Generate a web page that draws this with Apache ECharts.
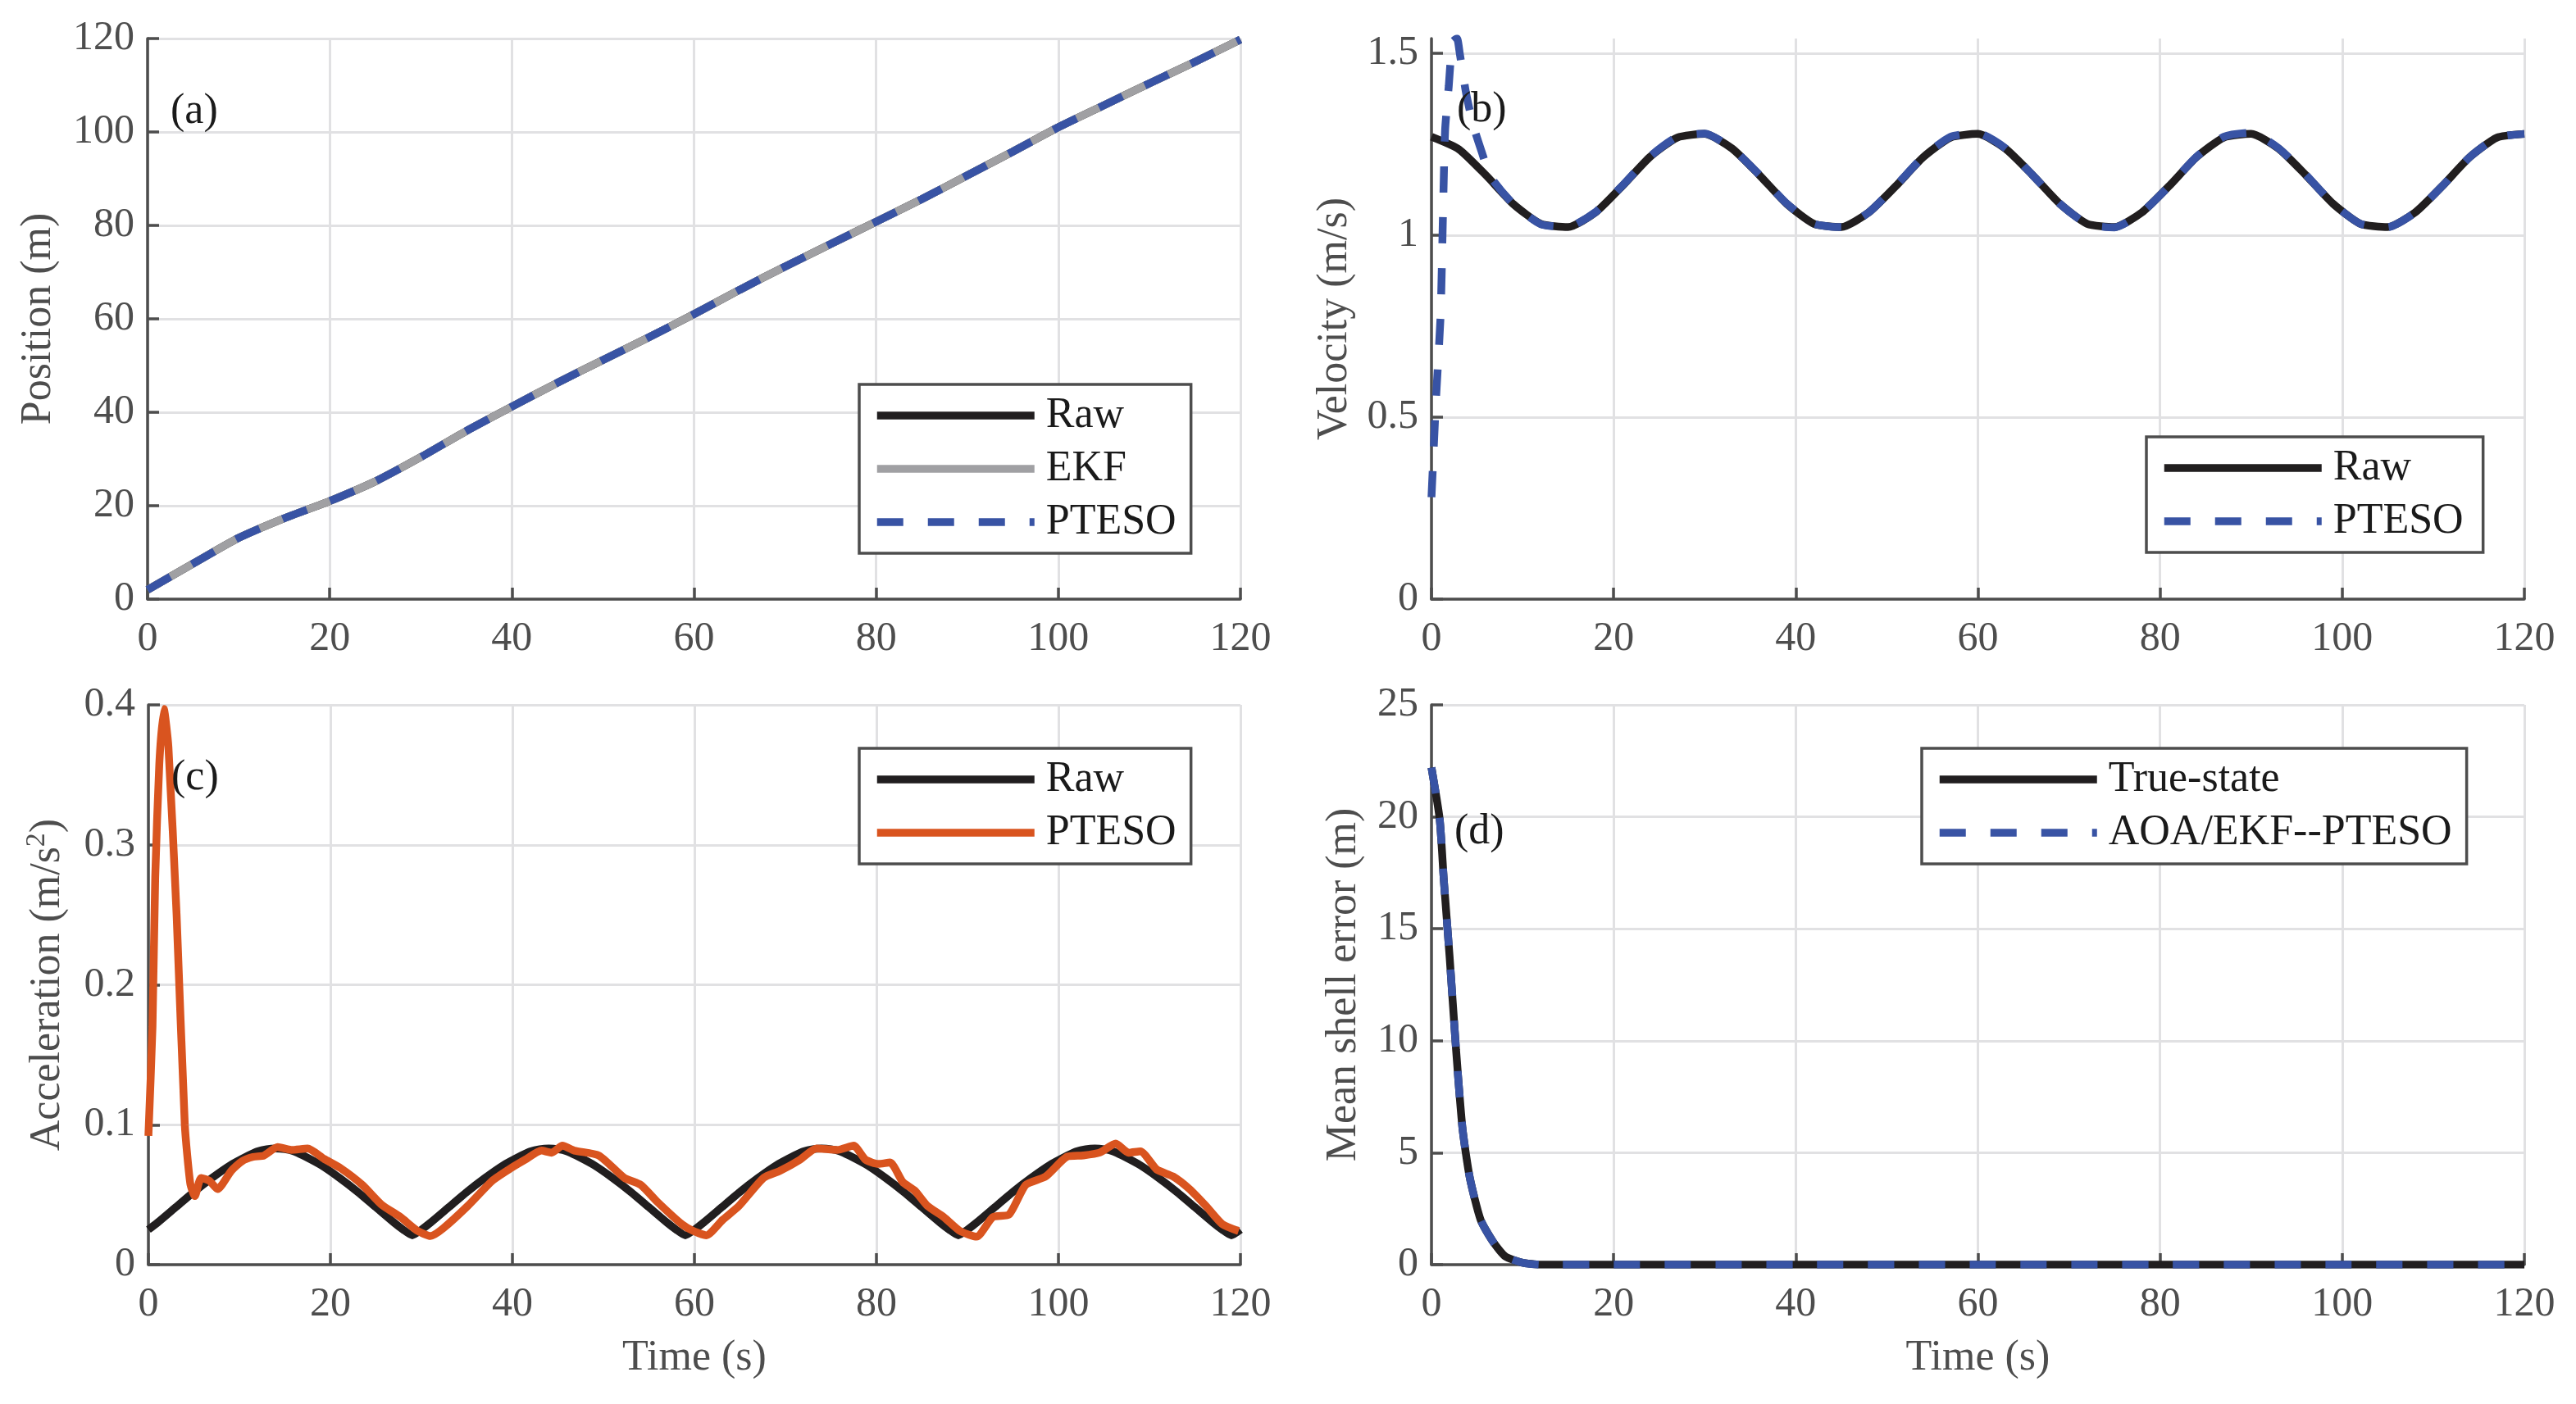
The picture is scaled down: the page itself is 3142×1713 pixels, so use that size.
<!DOCTYPE html>
<html lang="en">
<head>
<meta charset="UTF-8">
<title>PTESO states</title>
<script src="https://cdn.jsdelivr.net/npm/echarts@6/dist/echarts.min.js"></script>
<style>
  body { margin: 0; background: #fff; }
</style>
</head>
<body>
<div id="main" style="width: 3142px; height: 1713px;"></div>
<script type="text/javascript">
// (a) position, read every 5 s
var posTime = [0,5,10,15,20,25,30,35,40,45,50,55,60,65,70,75,80,85,90,95,100,105,110,115,120];
var posRaw  = [2.0,7.6,13.1,17.3,21.0,25.2,30.4,36.0,41.2,46.3,51.2,56.0,61.0,66.2,71.2,76.0,80.8,85.6,90.7,95.8,101.0,105.7,110.4,115.0,119.8];
var posEkf  = posRaw;
var posPteso = posRaw;

// (b) velocity
var velTime = [0,3,6,9,12,15,18,21,24,27,30,33,36,39,42,45,48,51,54,57,60,63,66,69,72,75,78,81,84,87,90,93,96,99,102,105,108,111,114,117,120];
var velRaw  = [1.270,1.236,1.164,1.085,1.031,1.022,1.062,1.136,1.215,1.268,
               1.278,1.238,1.165,1.086,1.031,1.022,1.062,1.135,1.214,1.268,
               1.278,1.238,1.165,1.086,1.031,1.022,1.062,1.135,1.214,1.268,
               1.278,1.238,1.165,1.086,1.031,1.022,1.062,1.135,1.214,1.268,1.278];
var velPtesoTime = [0,0.5,1.0,1.3,1.5,1.9,2.3,2.8,3.1,3.8,4.6,5.5,6.5,9,12,15,18,21,24,27,30,33,36,39,42,45,48,51,54,57,60,63,66,69,72,75,78,81,84,87,90,93,96,99,102,105,108,111,114,117,120];
var velPteso = [0.28,0.55,0.78,1.10,1.29,1.41,1.53,1.54,1.50,1.39,1.30,1.23,1.16,1.085,1.030,1.023,1.063,1.137,1.216,1.270,
                1.279,1.238,1.166,1.087,1.031,1.022,1.062,1.136,1.215,1.270,
                1.280,1.239,1.165,1.086,1.030,1.021,1.062,1.135,1.215,1.270,
                1.281,1.239,1.166,1.086,1.031,1.022,1.062,1.135,1.214,1.268,1.278];

// (c) acceleration
var accTime = [0,1,3,5,7,9,11,12,13,14,15,16,17,19,21,23,25,27,28,29,
               30,31,33,35,37,39,41,42,43,44,45,46,47,49,51,53,55,57,58,59,
               60,61,63,65,67,69,71,72,73,74,75,76,77,79,81,83,85,87,88,89,
               90,91,93,95,97,99,101,102,103,104,105,106,107,109,111,113,115,117,118,119,120];
var accRaw = [0.025,0.030,0.041,0.052,0.062,0.071,0.078,0.081,0.0825,0.083,0.0825,0.081,0.078,0.071,0.062,0.052,0.041,0.030,0.025,0.021,
              0.025,0.030,0.041,0.052,0.062,0.071,0.078,0.081,0.0825,0.083,0.0825,0.081,0.078,0.071,0.062,0.052,0.041,0.030,0.025,0.021,
              0.025,0.030,0.041,0.052,0.062,0.071,0.078,0.081,0.0825,0.083,0.0825,0.081,0.078,0.071,0.062,0.052,0.041,0.030,0.025,0.021,
              0.025,0.030,0.041,0.052,0.062,0.071,0.078,0.081,0.0825,0.083,0.0825,0.081,0.078,0.071,0.062,0.052,0.041,0.030,0.025,0.021,0.025];
var accPtesoTime = [0,0.45,0.75,1.2,1.7,2.2,3.1,4.0,4.6,5.1,5.8,6.7,7.6,9.1,10.3,11.5,12.7,14.2,15.7,17.5,19.3,21.1,23.5,25.6,27.7,29.5,31.0,
                    32.4,35.1,37.8,39.6,41.4,43.2,44.3,45.5,46.8,49.5,52.3,54.1,55.9,58.6,59.9,61.3,
                    63.1,64.9,67.6,69.4,71.6,73.4,75.7,77.5,78.8,80.2,81.5,82.9,84.2,85.6,87.4,89.2,91.0,
                    92.8,94.6,96.4,98.6,100.9,102.7,104.5,106.3,107.7,109.0,110.8,112.6,114.4,116.2,118.0,119.8];
var accPteso = [0.092,0.17,0.277,0.358,0.397,0.37,0.25,0.10,0.058,0.049,0.062,0.060,0.054,0.067,0.074,0.077,0.078,0.084,0.082,0.083,0.0756,0.069,0.057,0.043,0.034,0.0245,0.0205,
                0.026,0.042,0.060,0.068,0.075,0.0815,0.080,0.085,0.0815,0.078,0.062,0.057,0.045,0.029,0.024,0.021,
                0.032,0.042,0.062,0.067,0.075,0.083,0.082,0.085,0.075,0.072,0.073,0.059,0.053,0.042,0.034,0.024,0.020,
                0.034,0.036,0.057,0.063,0.077,0.078,0.080,0.0865,0.080,0.081,0.068,0.063,0.054,0.042,0.029,0.024];

// (d) mean shell error
var errTime = [0,0.9,1.35,2.0,2.7,3.4,4.2,5.4,6.8,8.1,9.9,12,20,40,60,80,100,120];
var errTrue = [22.2,19.9,17.2,13.7,9.6,6.1,3.9,2.0,1.0,0.37,0.1,0,0,0,0,0,0,0];
var errPteso = errTrue;

function pairs(t, v) {
    return t.map(function (x, i) { return [x, v[i]]; });
}

var FONT = "'Liberation Serif', 'Times New Roman', serif";
var AX = '#4d4d4d';
var BLACK = '#211e1f';
var BLUE = '#3853a4';
var GREY = '#a0a0a3';
var ORANGE = '#d9541f';
var DASH = [32, 30];
var LW = 9.5;

function xAxisOf(grid, named) {
    return {
        type: 'value', gridIndex: grid, min: 0, max: 120, interval: 20,
        name: named ? 'Time (s)' : '', nameLocation: 'middle', nameGap: 88,
        nameTextStyle: { fontFamily: FONT, fontSize: 52, color: AX },
        axisLine: { lineStyle: { color: AX, width: 3.5 } },
        axisTick: { inside: true, length: 14, lineStyle: { color: AX, width: 3.5 } },
        axisLabel: { fontFamily: FONT, fontSize: 50, color: AX, margin: 24 },
        splitLine: { show: true, lineStyle: { color: '#e1e1e3', width: 3 } }
    };
}
function yAxisOf(grid, name, max, interval, gap) {
    var cut = max === 1.54;
    return {
        type: 'value', gridIndex: grid, min: 0, max: max, interval: interval,
        name: name, nameLocation: 'middle', nameGap: gap,
        nameTextStyle: {
            fontFamily: FONT, fontSize: 52, color: AX,
            rich: { sup: { fontFamily: FONT, fontSize: 34, color: AX, padding: [0, 0, 26, 0] } }
        },
        axisLine: { show: true, lineStyle: { color: AX, width: 3.5 } },
        axisTick: { show: true, inside: true, length: 14, lineStyle: { color: AX, width: 3.5 } },
        axisLabel: { fontFamily: FONT, fontSize: 50, color: AX, margin: 16, showMaxLabel: !cut },
        splitLine: { show: true, showMaxLine: !cut, lineStyle: { color: '#e1e1e3', width: 3 } }
    };
}
function lineOf(name, grid, data, color, dashed) {
    return {
        name: name, type: 'line', xAxisIndex: grid, yAxisIndex: grid,
        data: data, showSymbol: false, symbol: 'none', smooth: 0.2,
        lineStyle: { color: color, width: LW, type: dashed ? DASH : 'solid', cap: 'butt' },
        itemStyle: { color: color },
        emphasis: { disabled: true }
    };
}
function legendOf(names, left, top, pad) {
    return {
        data: names, orient: 'vertical', left: left, top: top,
        itemWidth: 192, itemHeight: 20, itemGap: 13, selectedMode: false,
        padding: pad, borderColor: AX, borderWidth: 3.5, backgroundColor: '#fff',
        itemStyle: { opacity: 0 },
        lineStyle: { width: 9.5, cap: 'butt' },
        formatter: function (n) { return n.split('|')[1]; },
        textStyle: { fontFamily: FONT, fontSize: 52, color: '#1a1a1a', padding: [0, 0, 0, 9] }
    };
}
function tag(text, left, top) {
    return {
        type: 'text', left: left, top: top, z: 100,
        style: { text: text, fontFamily: FONT, fontSize: 52, fill: '#1a1a1a' }
    };
}

var chart = echarts.init(document.getElementById('main'));
chart.setOption({
    animation: false,
    backgroundColor: '#fff',
    grid: [
        { left: 180, right: 1629, top: 47, bottom: 982 },
        { left: 1746, right: 63, top: 47, bottom: 982 },
        { left: 181, right: 1629, top: 860, bottom: 170 },
        { left: 1746, right: 63, top: 860, bottom: 170 }
    ],
    xAxis: [xAxisOf(0, false), xAxisOf(1, false), xAxisOf(2, true), xAxisOf(3, true)],
    yAxis: [
        yAxisOf(0, 'Position (m)', 120, 20, 107),
        yAxisOf(1, 'Velocity (m/s)', 1.54, 0.5, 92),
        yAxisOf(2, 'Acceleration (m/s{sup|2})', 0.4, 0.1, 93),
        yAxisOf(3, 'Mean shell error (m)', 25, 5, 81)
    ],
    legend: [
        legendOf(['a|Raw', 'a|EKF', 'a|PTESO'], 1048, 469, [12, 18, 12, 17]),
        legendOf(['b|Raw', 'b|PTESO'], 2618, 533, [12, 24, 12, 17]),
        legendOf(['c|Raw', 'c|PTESO'], 1048, 913, [12, 18, 12, 17]),
        legendOf(['d|True-state', 'd|AOA/EKF--PTESO'], 2344, 913, [12, 18, 12, 17])
    ],
    graphic: [
        tag('(a)', 208, 110),
        tag('(b)', 1777, 108),
        tag('(c)', 209, 923),
        tag('(d)', 1774, 989)
    ],
    series: [
        lineOf('a|Raw', 0, pairs(posTime, posRaw), BLACK, false),
        lineOf('a|EKF', 0, pairs(posTime, posEkf), GREY, false),
        lineOf('a|PTESO', 0, pairs(posTime, posPteso), BLUE, true),
        lineOf('b|Raw', 1, pairs(velTime, velRaw), BLACK, false),
        lineOf('b|PTESO', 1, pairs(velPtesoTime, velPteso), BLUE, true),
        lineOf('c|Raw', 2, pairs(accTime, accRaw), BLACK, false),
        lineOf('c|PTESO', 2, pairs(accPtesoTime, accPteso), ORANGE, false),
        lineOf('d|True-state', 3, pairs(errTime, errTrue), BLACK, false),
        lineOf('d|AOA/EKF--PTESO', 3, pairs(errTime, errPteso), BLUE, true)
    ]
});
</script>
</body>
</html>
